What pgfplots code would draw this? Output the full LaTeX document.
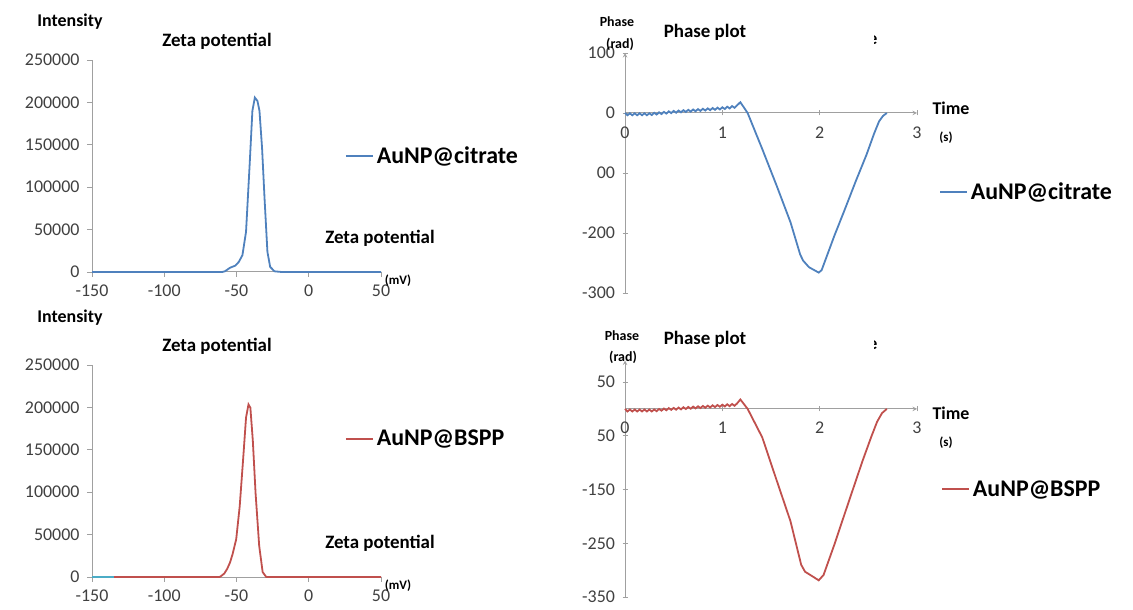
\documentclass[border=0pt]{standalone}
\usepackage{fontspec}
\setmainfont{Carlito}
\usepackage{pgfplots}
\pgfplotsset{compat=1.18}
\definecolor{axgray}{HTML}{A0A0A0}
\definecolor{tickgray}{HTML}{404040}
\definecolor{xlblue}{HTML}{4F81BD}
\definecolor{xlred}{HTML}{C0504D}
\definecolor{xlcyan}{HTML}{4BACC6}
\pgfplotsset{
  xlbase/.style={
    scale only axis,
    axis line style={-, color=axgray, line width=1bp},
    tick style={color=axgray, line width=0.9bp},
    major tick length=5bp,
    tick align=outside,
    hide obscured x ticks=false,
    hide obscured y ticks=false,
    scaled x ticks=false, scaled y ticks=false,
    tick label style={font=\fontsize{18}{18}\selectfont, text=tickgray},
    /pgf/number format/assume math mode=true,
    legend style={draw=none, fill=none, inner sep=0pt,
      font=\bfseries\fontsize{24}{24}\selectfont, anchor=west,
      nodes={inner sep=3bp}},
    legend image code/.code={\draw[#1] (0bp,0bp) -- (27bp,0bp);},
    clip=false,
  },
  zeta/.style={xlbase,
    width=289bp, height=212bp,
    axis x line*=bottom, axis y line*=left,
    xmin=-150, xmax=50, ymin=0, ymax=250000,
    xtick={-150,-100,-50,0,50}, xticklabels={-150,-100,-50,0,50},
    ytick={0,50000,100000,150000,200000,250000},
    yticklabels={0,50000,100000,150000,200000,250000},
  },
  phase/.style={xlbase,
    width=292bp,
    axis x line=middle, axis y line=left,
    xmin=0, xmax=3,
    xtick={0,1,2,3}, xticklabels={0,1,2,3},
  },
}
\begin{document}
\begin{tikzpicture}
\useasboundingbox (0bp,0bp) rectangle (1133bp,610bp);

% ---------------- top left ----------------
\begin{axis}[zeta, at={(92bp,338bp)}, anchor=south west,
  x tick label style={text height=16bp},
  y tick label style={xshift=-4bp},
  legend style={at={(axis description cs:0.875,0.548)}}]
\addplot[xlblue, line width=1.8bp] coordinates {
(-150,0) (-60,0) (-58,800) (-54.5,5000) (-50.8,7500) (-48.4,11900) (-45.9,19800)
(-43.4,47500) (-40.9,126600) (-39,190000) (-37.3,205700) (-35.5,201700)
(-34.1,190000) (-32.3,146000) (-30.6,87000) (-28.6,23700) (-26.7,6000)
(-23.7,800) (-18.8,0) (50,0)};
\addlegendentry{AuNP@citrate}
\end{axis}

% ---------------- bottom left ----------------
\begin{axis}[zeta, at={(92bp,33bp)}, anchor=south west,
  x tick label style={text height=16bp},
  y tick label style={xshift=-4bp},
  legend style={at={(axis description cs:0.875,0.652)}}]
\addplot[xlred, line width=1.8bp] coordinates {
(-135,0) (-62,0) (-61.3,300) (-58.5,4000) (-56.4,9700) (-54.5,17000) (-52.7,27000)
(-50.2,44600) (-47.8,83000) (-45.3,141500) (-43.4,188000) (-41.7,203500)
(-40.4,199600) (-38.7,160800) (-36.8,98800) (-34.3,36800) (-31.9,5800)
(-29.4,0) (50,0)};
\addlegendentry{AuNP@BSPP}
\addplot[xlcyan, line width=1.8bp, forget plot] coordinates {(-150,0) (-135,0)};
\end{axis}

% ---------------- top right ----------------
\begin{axis}[phase, at={(625bp,317bp)}, anchor=south west,
  height=240bp, ymin=-300, ymax=100,
  ytick={-300,-200,-100,0,100}, yticklabels={-300,-200,00,0,100},
  x tick label style={text height=19bp},
  y tick label style={xshift=-4bp},
  legend style={at={(axis description cs:1.075,0.42)}}]
\addplot[xlblue, line width=1.8bp] coordinates {
(0,0) (0.025,-3.8) (0.05,-0.5) (0.075,-3.8) (0.1,-0.5) (0.125,-3.8) (0.15,-0.5)
(0.175,-3.8) (0.2,-0.5) (0.225,-3.8) (0.25,-0.5) (0.275,-3.4) (0.3,0.3)
(0.325,-2.6) (0.35,1.1) (0.375,-1.8) (0.4,1.9) (0.425,-1.0) (0.45,2.7)
(0.475,-0.2) (0.5,3.5) (0.525,0.5) (0.55,4.1) (0.575,1.1) (0.6,4.7)
(0.625,1.7) (0.65,5.3) (0.675,2.3) (0.7,5.9) (0.725,2.9) (0.75,6.5)
(0.775,3.5) (0.8,7.1) (0.825,4.1) (0.85,7.7) (0.875,4.7) (0.9,8.3)
(0.925,5.3) (0.95,8.9) (0.975,5.9) (1.0,9.5) (1.025,6.7) (1.05,10.5)
(1.075,7.7) (1.1,11.5) (1.125,8.7) (1.15,12.5) (1.185,18)
(1.26,0) (1.41,-60) (1.56,-122) (1.70,-182) (1.80,-236) (1.83,-246)
(1.89,-257) (1.99,-266) (2.02,-262) (2.15,-205) (2.26,-160) (2.37,-114)
(2.48,-70) (2.56,-34) (2.61,-14) (2.65,-5) (2.69,0)};
\addlegendentry{AuNP@citrate}
\end{axis}

% ---------------- bottom right ----------------
\begin{axis}[phase, at={(625bp,13bp)}, anchor=south west,
  height=236.5bp, ymin=-350, ymax=90,
  ytick={-350,-250,-150,-50,50}, yticklabels={-350,-250,-150,50,50},
  x tick label style={text height=19bp},
  y tick label style={xshift=-4bp},
  legend style={at={(axis description cs:1.082,0.455)}}]
\addplot[xlred, line width=1.8bp] coordinates {
(0,0) (0.025,-4.8) (0.05,-1.2) (0.075,-4.8) (0.1,-1.2) (0.125,-4.8) (0.15,-1.2)
(0.175,-4.8) (0.2,-1.2) (0.225,-4.8) (0.25,-1.2) (0.275,-4.8) (0.3,-1.2)
(0.325,-4.3) (0.35,-0.2) (0.375,-3.3) (0.4,0.6) (0.425,-2.6) (0.45,1.4)
(0.475,-1.8) (0.5,1.8) (0.525,-1.5) (0.55,2.4) (0.575,-0.9) (0.6,3.0)
(0.625,-0.3) (0.65,3.6) (0.675,0.3) (0.7,4.2) (0.725,0.9) (0.75,4.8)
(0.775,1.5) (0.8,5.4) (0.825,2.1) (0.85,6.0) (0.875,2.7) (0.9,6.6)
(0.925,3.3) (0.95,7.2) (0.975,3.9) (1.0,7.8) (1.025,4.4) (1.05,8.5)
(1.075,5.0) (1.1,9.1) (1.125,5.7) (1.15,9.8) (1.185,17.5)
(1.26,0) (1.41,-53) (1.56,-134) (1.70,-209) (1.81,-290) (1.85,-303)
(1.93,-312) (1.99,-319) (2.04,-309) (2.15,-253) (2.30,-172) (2.44,-97)
(2.53,-52) (2.59,-24) (2.64,-8) (2.69,0)};
\addlegendentry{AuNP@BSPP}
\end{axis}

% ---------------- free text ----------------
\tikzset{bt/.style={font=\bfseries\fontsize{#1}{#1}\selectfont, inner sep=0pt}}
\node[bt=18] at (70bp,588bp) {Intensity};
\node[bt=19] at (217bp,569bp) {Zeta potential};
\node[bt=19] at (380bp,372bp) {Zeta potential};
\node[bt=13] at (398bp,329bp) {(mV)};

\node[bt=18] at (70bp,292bp) {Intensity};
\node[bt=19] at (217bp,264bp) {Zeta potential};
\node[bt=19] at (380bp,67bp) {Zeta potential};
\node[bt=13] at (398bp,24bp) {(mV)};

\node[bt=14] at (617bp,588bp) {Phase};
\node[bt=14] at (620bp,566bp) {(rad)};
\node[bt=19] at (705bp,578bp) {Phase plot};
\node[bt=18] at (951bp,502bp) {Time};
\node[bt=13] at (946bp,472bp) {(s)};
\begin{scope}
\clip (874bp,558bp) rectangle (885bp,584bp);
\node[bt=18] at (873bp,570bp) {e};
\end{scope}

\node[bt=14] at (622bp,274bp) {Phase};
\node[bt=14] at (623bp,253bp) {(rad)};
\node[bt=19] at (705bp,271bp) {Phase plot};
\node[bt=18] at (951bp,197bp) {Time};
\node[bt=13] at (946bp,167bp) {(s)};
\begin{scope}
\clip (874bp,253bp) rectangle (885bp,279bp);
\node[bt=18] at (873bp,265bp) {e};
\end{scope}
\end{tikzpicture}
\end{document}
